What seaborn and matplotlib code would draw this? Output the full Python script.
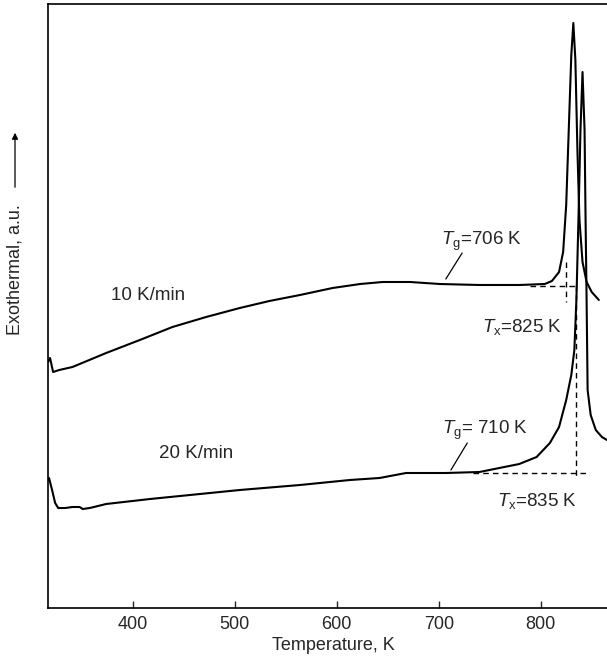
#DSC traces of the glass at two heating rates (10 and 20 K/min)
#	Tg / Tx marked with dashed construction lines
########################################################################################

import numpy as np
import pandas as pd
import seaborn as sb
import matplotlib.pyplot as plt

# temperature (K) and heat flow (a.u.)
temp_10 = [317, 319, 322, 328, 341, 374, 407, 439, 472, 505, 534, 564, 596, 623,
           645, 672, 701, 740, 779, 804, 811, 818, 822, 825, 828, 830, 832, 834,
           836, 838, 841, 845, 850, 857]
heat_10 = [246, 250, 236, 238, 241, 255, 268, 281, 291, 300, 307, 313, 320, 324,
           326, 326, 324, 323, 323, 324, 327, 336, 356, 403, 493, 553, 585, 548,
           458, 388, 346, 326, 316, 308]

temp_20 = [317, 318, 321, 324, 327, 334, 341, 348, 351, 358, 374, 417, 466, 505,
           564, 613, 642, 668, 707, 740, 779, 796, 809, 818, 825, 830, 833, 835,
           837, 839, 841, 843, 844, 845, 846, 849, 854, 860, 865]
heat_20 = [128, 130, 118, 105, 100, 100, 101, 101, 99, 100, 104, 109, 114, 118,
           123, 128, 130, 135, 135, 136, 144, 151, 165, 181, 208, 233, 258, 308,
           388, 478, 536, 478, 388, 308, 218, 193, 178, 171, 168]

rate_labels = ["10 K/min", "20 K/min"]

df = pd.concat([
	pd.DataFrame({"T": temp_10, "q": heat_10, "rate": rate_labels[0]}),
	pd.DataFrame({"T": temp_20, "q": heat_20, "rate": rate_labels[1]}),
])

sb.set_style("ticks")
plt.rcParams['font.family'] = ['Liberation Sans', 'DejaVu Sans']
plt.rcParams['mathtext.fontset'] = 'custom'
plt.rcParams['mathtext.it'] = 'Liberation Sans:italic'
plt.rcParams['mathtext.rm'] = 'Liberation Sans'

fig = plt.figure(figsize=(6.07, 6.60), dpi=100)
ax = fig.add_axes([48/607, 52/660, 1 - 48/607, 604/660])

sb.lineplot(data=df, x="T", y="q", hue="rate", palette=["black", "black"],
            sort=False, estimator=None, linewidth=1.5, legend=False, ax=ax)

#............................................................#
# dashed construction lines (onset of crystallisation)
dash = dict(color="black", linewidth=1.0, linestyle=(0, (4, 3)))
ax.plot([790, 835], [322, 322], **dash)
ax.plot([825, 825], [346, 306], **dash)
ax.plot([734, 845], [135, 135], **dash)
ax.plot([835, 835], [323, 130], **dash)

# pointer lines for Tg
ax.plot([723, 707], [355, 329], color="black", linewidth=0.9)
ax.plot([728, 712], [165, 138], color="black", linewidth=0.9)
#............................................................#

fs = 13.5
ax.text(415, 312, "10 K/min", fontsize=fs, ha="center", va="center")
ax.text(462, 154, "20 K/min", fontsize=fs, ha="center", va="center")
ax.text(702, 367, r"$T_\mathrm{g}$=706 K", fontsize=fs, ha="left", va="center")
ax.text(703, 178, r"$T_\mathrm{g}$= 710 K", fontsize=fs, ha="left", va="center")
ax.text(742, 281, r"$T_\mathrm{x}$=825 K", fontsize=fs, ha="left", va="center")
ax.text(757, 107, r"$T_\mathrm{x}$=835 K", fontsize=fs, ha="left", va="center")

ax.set_xlim(317, 865)
ax.set_ylim(0, 604)
ax.set_xticks([400, 500, 600, 700, 800])
ax.set_yticks([])
ax.tick_params(axis="x", direction="in", length=5, width=1, labelsize=13, pad=6)
ax.set_xlabel("Temperature, K", fontsize=13, labelpad=3)
ax.xaxis.label.set_x(0.51)
ax.set_ylabel("")
for s in ["left", "top", "bottom"]:
	ax.spines[s].set_linewidth(1.2)
	ax.spines[s].set_color("black")
ax.spines["right"].set_visible(False)

# y label with the upward arrow after it
fig.text(15/607, 1 - 270/660, "Exothermal, a.u.", rotation=90, fontsize=13,
         ha="center", va="center")
ax.annotate("", xy=(15/607, 1 - 130/660), xytext=(15/607, 1 - 190/660),
            xycoords="figure fraction", textcoords="figure fraction",
            arrowprops=dict(arrowstyle="-|>", color="black", lw=0.9,
                            mutation_scale=9))

fig.savefig("out.png", dpi=100)
